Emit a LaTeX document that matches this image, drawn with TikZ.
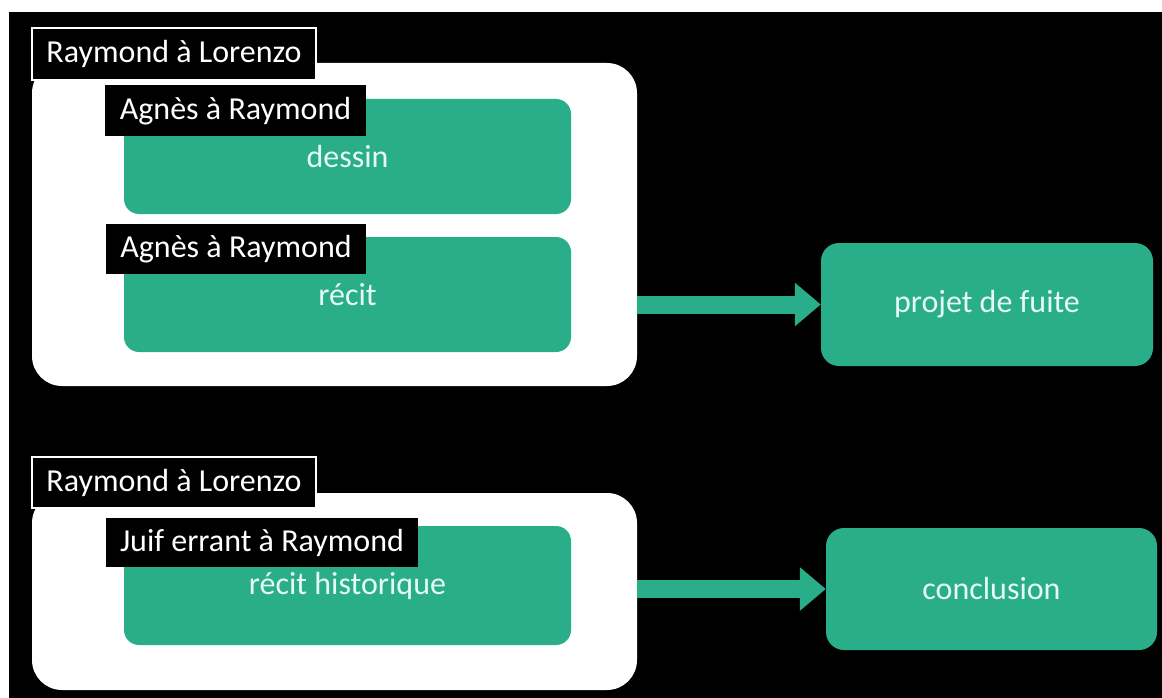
\documentclass[tikz,border=0pt]{standalone}
\usepackage{fontspec}
\setmainfont{Carlito}
\usetikzlibrary{arrows.meta}
\definecolor{teal1}{RGB}{42,174,138}
\definecolor{mint}{RGB}{228,250,242}
\begin{document}
\begin{tikzpicture}[x=1pt,y=-1pt,
  font=\fontsize{32}{38}\selectfont,
  outerbox/.style={fill=white, rounded corners=30pt, inner sep=0pt},
  greenbox/.style={fill=teal1, rounded corners=15pt, inner sep=0pt, text=mint},
  speaker/.style={fill=black, text=white, inner sep=0pt},
  framed/.style={speaker, draw=white, line width=1.5pt},
  flow/.style={teal1, line width=18pt, -{Triangle[width=42pt,length=26pt]}}]
\useasboundingbox (0,0) rectangle (1162,698);
\fill[white] (0,0) rectangle (1162,698);
\fill[black] (9,12) rectangle (1162,698);
% top group
\node[outerbox, minimum width=605pt, minimum height=323pt] (outer1) at (334.5,224.5) {};
\node[framed, minimum width=284pt, minimum height=52pt] (lab1) at (174,54) {Raymond à Lorenzo};
\node[greenbox, minimum width=447pt, minimum height=115pt] (dessin) at (347.5,156.5) {dessin};
\node[speaker, minimum width=261pt, minimum height=51pt] (labA1) at (235.5,111) {Agnès à Raymond};
\node[greenbox, minimum width=447pt, minimum height=115pt] (recit) at (347.5,294.5) {récit};
\node[speaker, minimum width=260pt, minimum height=50pt] (labA2) at (236,249) {Agnès à Raymond};
\node[greenbox, rounded corners=18pt, minimum width=332pt, minimum height=123pt] (projet) at (987,304.5) {projet de fuite};
\draw[flow] (outer1.east |- projet.west) -- (projet.west);
% bottom group
\node[outerbox, minimum width=605pt, minimum height=197pt] (outer2) at (334.5,591.5) {};
\node[framed, minimum width=284pt, minimum height=51pt] (lab2) at (174,482.5) {Raymond à Lorenzo};
\node[greenbox, minimum width=447pt, minimum height=119pt] (rh) at (347.5,585.5) {récit historique};
\node[speaker, minimum width=312pt, minimum height=49pt] (labJ) at (262,542.5) {Juif errant à Raymond};
\node[greenbox, rounded corners=18pt, minimum width=331pt, minimum height=122pt] (concl) at (991.5,589) {conclusion};
\draw[flow] (outer2.east |- concl.west) -- (concl.west);
\end{tikzpicture}
\end{document}
